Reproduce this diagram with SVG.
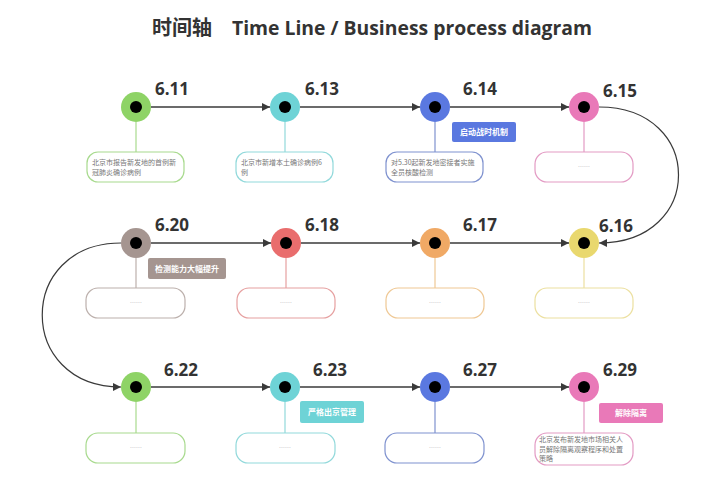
<svg xmlns="http://www.w3.org/2000/svg" width="720" height="478" viewBox="0 0 720 478">
<defs>
<marker id="ah" viewBox="0 0 10 10" refX="10" refY="5" markerWidth="9" markerHeight="8" markerUnits="userSpaceOnUse" orient="auto">
<path d="M0,0 L10,5 L0,10 z" fill="#3a3a3a"/>
</marker>
<style>
.title{font-family:"Open Sans","Noto Sans CJK SC",sans-serif;font-weight:bold;font-size:20px;fill:#333}
.date{font-family:"Open Sans",sans-serif;font-weight:bold;font-size:17px;fill:#333}
.dot{fill:#000}
.box{fill:#fff;stroke-width:1.2}
.stem{stroke-width:1.2;fill:none}
.desc{font-family:"Noto Sans CJK SC",sans-serif;font-size:7px;fill:#777}
.dash{font-family:"Noto Sans CJK SC",sans-serif;font-size:6px;fill:#aaa;text-anchor:middle}
.tagt{font-family:"Noto Sans CJK SC",sans-serif;font-size:8px;font-weight:bold;fill:#fff;text-anchor:middle}
.conn{stroke:#3a3a3a;stroke-width:1.6;fill:none}
.curve{stroke:#3a3a3a;stroke-width:1.2;fill:none}
.green{fill:#8ed366}.greenS{stroke:#a8da8e}
.cyan{fill:#6ed3d6}.cyanS{stroke:#92d9db}
.blue{fill:#5a78e0}.blueS{stroke:#7f92cf}
.pink{fill:#e979b8}.pinkS{stroke:#e39bc4}
.yellow{fill:#e9d86e}.yellowS{stroke:#ece0a0}
.orange{fill:#f0a965}.orangeS{stroke:#efc894}
.red{fill:#e96d6d}.redS{stroke:#e6a0a0}
.taupe{fill:#a59590}.taupeS{stroke:#bcb0ac}
</style>
</defs>
<rect width="720" height="478" fill="#fff"/>
<text class="title" x="152" y="35" font-family="'Noto Sans CJK SC',sans-serif">时间轴</text>
<text class="title" x="232" y="35" textLength="360" lengthAdjust="spacingAndGlyphs">Time Line / Business process diagram</text>

<g id="connectors">
<line class="conn" x1="151" y1="107" x2="270" y2="107" marker-end="url(#ah)"/>
<line class="conn" x1="300" y1="107" x2="420" y2="107" marker-end="url(#ah)"/>
<line class="conn" x1="450" y1="107" x2="569" y2="107" marker-end="url(#ah)"/>
<path class="curve" d="M599,107 C705,107 705,243 599,243" marker-end="url(#ah)"/>
<line class="conn" x1="450" y1="243" x2="569" y2="243" marker-end="url(#ah)"/>
<line class="conn" x1="301" y1="243" x2="420" y2="243" marker-end="url(#ah)"/>
<line class="conn" x1="151" y1="243" x2="271" y2="243" marker-end="url(#ah)"/>
<path class="curve" d="M121,243 C16,243 16,387 121,387" marker-end="url(#ah)"/>
<line class="conn" x1="151" y1="387" x2="270" y2="387" marker-end="url(#ah)"/>
<line class="conn" x1="300" y1="387" x2="420" y2="387" marker-end="url(#ah)"/>
<line class="conn" x1="450" y1="387" x2="569" y2="387" marker-end="url(#ah)"/>
</g>

<g id="n611">
<line class="stem greenS" x1="136" y1="122" x2="136" y2="152"/>
<rect class="box greenS" x="87" y="152" width="97" height="30" rx="11"/>
<text class="desc" x="92" y="164.5">北京市报告新发地的首例新</text>
<text class="desc" x="92" y="174.5">冠肺炎确诊病例</text>
<circle class="green" cx="136" cy="107" r="15"/><circle class="dot" cx="136" cy="107" r="6"/>
<text class="date" x="155" y="95">6.11</text>
</g>
<g id="n613">
<line class="stem cyanS" x1="285" y1="122" x2="285" y2="152"/>
<rect class="box cyanS" x="236" y="152" width="97" height="30" rx="11"/>
<text class="desc" x="241" y="164.5">北京市新增本土确诊病例6</text>
<text class="desc" x="241" y="174.5">例</text>
<circle class="cyan" cx="285" cy="107" r="15"/><circle class="dot" cx="285" cy="107" r="6"/>
<text class="date" x="305" y="95">6.13</text>
</g>
<g id="n614">
<line class="stem blueS" x1="435" y1="122" x2="435" y2="152"/>
<rect class="box blueS" x="386" y="152" width="97" height="30" rx="11"/>
<text class="desc" x="391" y="164.5">对5.30起新发地密接者实施</text>
<text class="desc" x="391" y="174.5">全员核酸检测</text>
<circle class="blue" cx="435" cy="107" r="15"/><circle class="dot" cx="435" cy="107" r="6"/>
<text class="date" x="463" y="95">6.14</text>
<rect class="blue" x="452" y="122" width="64" height="20" rx="2"/>
<text class="tagt" x="484" y="135">启动战时机制</text>
</g>
<g id="n615">
<line class="stem pinkS" x1="584" y1="122" x2="584" y2="152"/>
<rect class="box pinkS" x="535" y="152" width="98" height="30" rx="12"/>
<text class="dash" x="584" y="169">……</text>
<circle class="pink" cx="584" cy="107" r="15"/><circle class="dot" cx="584" cy="107" r="6"/>
<text class="date" x="603" y="97">6.15</text>
</g>

<g id="n616">
<line class="stem yellowS" x1="584" y1="258" x2="584" y2="288"/>
<rect class="box yellowS" x="535" y="288" width="98" height="30" rx="12"/>
<text class="dash" x="584" y="305">……</text>
<circle class="yellow" cx="584" cy="243" r="15"/><circle class="dot" cx="584" cy="243" r="6"/>
<text class="date" x="599" y="232">6.16</text>
</g>
<g id="n617">
<line class="stem orangeS" x1="435" y1="258" x2="435" y2="288"/>
<rect class="box orangeS" x="386" y="288" width="98" height="30" rx="12"/>
<text class="dash" x="435" y="305">……</text>
<circle class="orange" cx="435" cy="243" r="15"/><circle class="dot" cx="435" cy="243" r="6"/>
<text class="date" x="463" y="231">6.17</text>
</g>
<g id="n618">
<line class="stem redS" x1="286" y1="258" x2="286" y2="288"/>
<rect class="box redS" x="237" y="288" width="98" height="30" rx="12"/>
<text class="dash" x="286" y="305">……</text>
<circle class="red" cx="286" cy="243" r="15"/><circle class="dot" cx="286" cy="243" r="6"/>
<text class="date" x="305" y="231">6.18</text>
</g>
<g id="n620">
<line class="stem taupeS" x1="136" y1="258" x2="136" y2="288"/>
<rect class="box taupeS" x="86" y="288" width="99" height="30" rx="12"/>
<text class="dash" x="136" y="305">……</text>
<circle class="taupe" cx="136" cy="243" r="15"/><circle class="dot" cx="136" cy="243" r="6"/>
<text class="date" x="155" y="231">6.20</text>
<rect class="taupe" x="148" y="258" width="78" height="21" rx="2"/>
<text class="tagt" x="187" y="271.5">检测能力大幅提升</text>
</g>

<g id="n622">
<line class="stem greenS" x1="136" y1="402" x2="136" y2="433"/>
<rect class="box greenS" x="86" y="433" width="99" height="30" rx="12"/>
<text class="dash" x="136" y="450">……</text>
<circle class="green" cx="136" cy="387" r="15"/><circle class="dot" cx="136" cy="387" r="6"/>
<text class="date" x="164" y="376">6.22</text>
</g>
<g id="n623">
<line class="stem cyanS" x1="285" y1="402" x2="285" y2="433"/>
<rect class="box cyanS" x="236" y="433" width="99" height="30" rx="12"/>
<text class="dash" x="285" y="450">……</text>
<circle class="cyan" cx="285" cy="387" r="15"/><circle class="dot" cx="285" cy="387" r="6"/>
<text class="date" x="313" y="376">6.23</text>
<rect class="cyan" x="300" y="401" width="64" height="22" rx="2"/>
<text class="tagt" x="332" y="415">严格出京管理</text>
</g>
<g id="n627">
<line class="stem blueS" x1="435" y1="402" x2="435" y2="433"/>
<rect class="box blueS" x="385" y="433" width="99" height="30" rx="12"/>
<text class="dash" x="435" y="450">……</text>
<circle class="blue" cx="435" cy="387" r="15"/><circle class="dot" cx="435" cy="387" r="6"/>
<text class="date" x="463" y="376">6.27</text>
</g>
<g id="n629">
<line class="stem pinkS" x1="584" y1="402" x2="584" y2="433"/>
<rect class="box pinkS" x="535" y="433" width="98" height="32" rx="12"/>
<text class="desc" x="539" y="442">北京发布新发地市场相关人</text>
<text class="desc" x="539" y="451.5">员解除隔离观察程序和处置</text>
<text class="desc" x="539" y="461">策略</text>
<circle class="pink" cx="584" cy="387" r="15"/><circle class="dot" cx="584" cy="387" r="6"/>
<text class="date" x="603" y="376">6.29</text>
<rect class="pink" x="599" y="403" width="64" height="20" rx="2"/>
<text class="tagt" x="631" y="416">解除隔离</text>
</g>
</svg>
